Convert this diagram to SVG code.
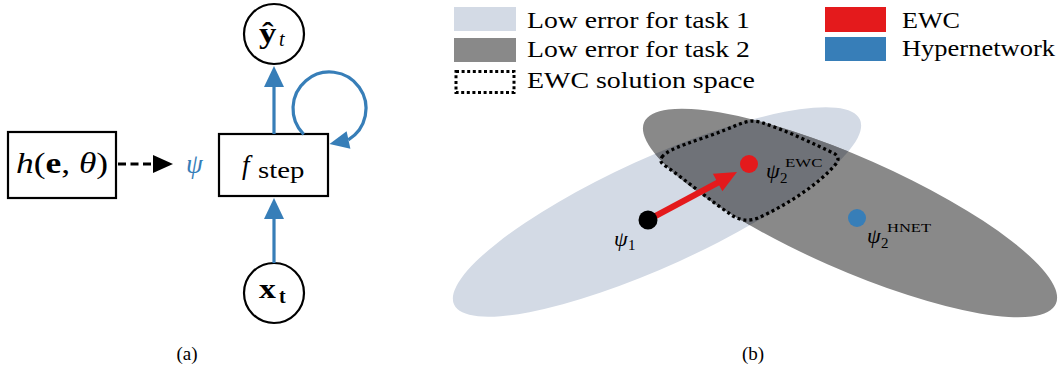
<svg xmlns="http://www.w3.org/2000/svg" width="1060" height="368" viewBox="0 0 1060 368" font-family="'Liberation Serif', 'Times New Roman', serif">
<defs>
<style>
text{font-family:'Liberation Serif','Times New Roman',serif}
.serif{fill:#000}
.box{fill:#fff;stroke:#000;stroke-width:2.2}
.circ{fill:#fff;stroke:#000;stroke-width:2.2}
.bl{stroke:#377eb8;stroke-width:3.2;fill:none}
.blf{fill:#377eb8}
.leg{font-size:23px}
.sup{font-size:13px}
</style>
<clipPath id="clipLight"><ellipse cx="657" cy="212" rx="223" ry="54" transform="rotate(-24.5 657 212)"/></clipPath>
</defs>
<rect width="1060" height="368" fill="#fff"/>

<!-- Panel (a) -->
<g id="node-h">
<rect class="box" x="8" y="132" width="108" height="66"/>
<text class="serif" transform="translate(16 173) scale(1.18 1)" font-size="30"><tspan font-style="italic">h</tspan>(<tspan font-weight="bold">e</tspan>, <tspan font-style="italic">θ</tspan>)</text>
</g>
<g id="label-psi">
<text class="serif" x="186" y="173" font-size="27" font-style="italic" style="fill:#377eb8">ψ</text>
</g>
<g id="node-fstep">
<rect class="box" x="219" y="134" width="109" height="62"/>
<text class="serif" x="242" y="174" font-size="27" font-style="italic">f</text>
<text class="serif" transform="translate(258 178) scale(1.2 1)" font-size="24">step</text>
</g>
<g id="node-yhat">
<circle class="circ" cx="274" cy="34" r="30"/>
<text class="serif" transform="translate(259 43) scale(1.2 1)" font-size="29" font-weight="bold">ŷ</text>
<text class="serif" x="279" y="46" font-size="20" font-style="italic">t</text>
</g>
<g id="node-xt">
<circle class="circ" cx="274" cy="293" r="30"/>
<text class="serif" transform="translate(259 298) scale(1.2 1)" font-size="28" font-weight="bold">x</text>
<text class="serif" x="279" y="303" font-size="20" font-weight="bold">t</text>
</g>
<g id="connectors">
<line x1="118" y1="164" x2="153" y2="164" stroke="#000" stroke-width="3" stroke-dasharray="8 4.5"/>
<polygon points="153,155 173,164 153,173" fill="#000"/>
<line class="bl" x1="274" y1="134" x2="274" y2="84"/>
<polygon class="blf" points="274,66 264,87 284,87"/>
<line class="bl" x1="274" y1="263" x2="274" y2="216"/>
<polygon class="blf" points="274,198 264,219 284,219"/>
<path class="bl" d="M 303.7 134.3 A 36.5 36.5 0 1 1 348.3 139.8"/>
<polygon class="blf" points="329.5,144 350.4,148.8 346.6,131.2"/>
</g>
<text class="serif" x="187" y="360" font-size="19" text-anchor="middle">(a)</text>

<!-- Panel (b) -->
<g id="regions">
<ellipse cx="657" cy="212" rx="223" ry="54" transform="rotate(-24.5 657 212)" fill="#d3dae5"/>
<ellipse cx="850" cy="213" rx="225" ry="56" transform="rotate(23.8 850 213)" fill="#898989"/>
<g clip-path="url(#clipLight)">
<ellipse cx="850" cy="213" rx="225" ry="56" transform="rotate(23.8 850 213)" fill="#6f7278"/>
</g>
<path id="ewc-space" d="M 662,157 C 668,148 700,140 725,130 C 740,124 748,119 760,122 C 785,130 815,144 835,154 Q 841,158 835,165 C 818,185 785,206 758,218 Q 745,223 733,216 C 712,202 688,182 667,167 Q 658,162 662,157 Z" fill="none" stroke="#000" stroke-width="3.3" stroke-dasharray="3 3"/>
</g>
<g id="ewc-arrow">
<line x1="648" y1="220" x2="719" y2="182" stroke="#e41a1c" stroke-width="6"/>
<polygon points="737,172 712.9,173.7 722.4,191.3" fill="#e41a1c"/>
</g>
<g id="psi1">
<circle cx="648" cy="220" r="9.5" fill="#000"/>
<text class="serif" x="614" y="246" font-size="22" font-style="italic">ψ</text>
<text class="serif" x="628" y="250" font-size="15">1</text>
</g>
<g id="psi2-ewc">
<circle cx="749" cy="164" r="9" fill="#e41a1c"/>
<text class="serif" x="766" y="178" font-size="22" font-style="italic">ψ</text>
<text class="serif" x="780" y="183" font-size="15">2</text>
<text class="serif sup" transform="translate(785 167) scale(1.3 1)">EWC</text>
</g>
<g id="psi2-hnet">
<circle cx="857" cy="218" r="9" fill="#377eb8"/>
<text class="serif" x="867" y="243" font-size="22" font-style="italic">ψ</text>
<text class="serif" x="881" y="248" font-size="15">2</text>
<text class="serif sup" transform="translate(887 232) scale(1.27 1)">HNET</text>
</g>
<g id="legend">
<rect x="454" y="7" width="62" height="24" fill="#d3dae5"/>
<text class="serif leg" transform="translate(527 28) scale(1.204 1)">Low error for task 1</text>
<rect x="454" y="38" width="62" height="24" fill="#898989"/>
<text class="serif leg" transform="translate(527 57) scale(1.204 1)">Low error for task 2</text>
<rect x="456" y="71.5" width="58" height="21" fill="none" stroke="#000" stroke-width="3" stroke-dasharray="3 2.6"/>
<text class="serif leg" transform="translate(527 88) scale(1.214 1)">EWC solution space</text>
<rect x="825" y="7" width="61" height="25" fill="#e41a1c"/>
<text class="serif leg" transform="translate(902 28) scale(1.135 1)">EWC</text>
<rect x="825" y="37" width="61" height="24" fill="#377eb8"/>
<text class="serif leg" transform="translate(902 56) scale(1.152 1)">Hypernetwork</text>
</g>
<text class="serif" x="753" y="360" font-size="19" text-anchor="middle">(b)</text>
</svg>
